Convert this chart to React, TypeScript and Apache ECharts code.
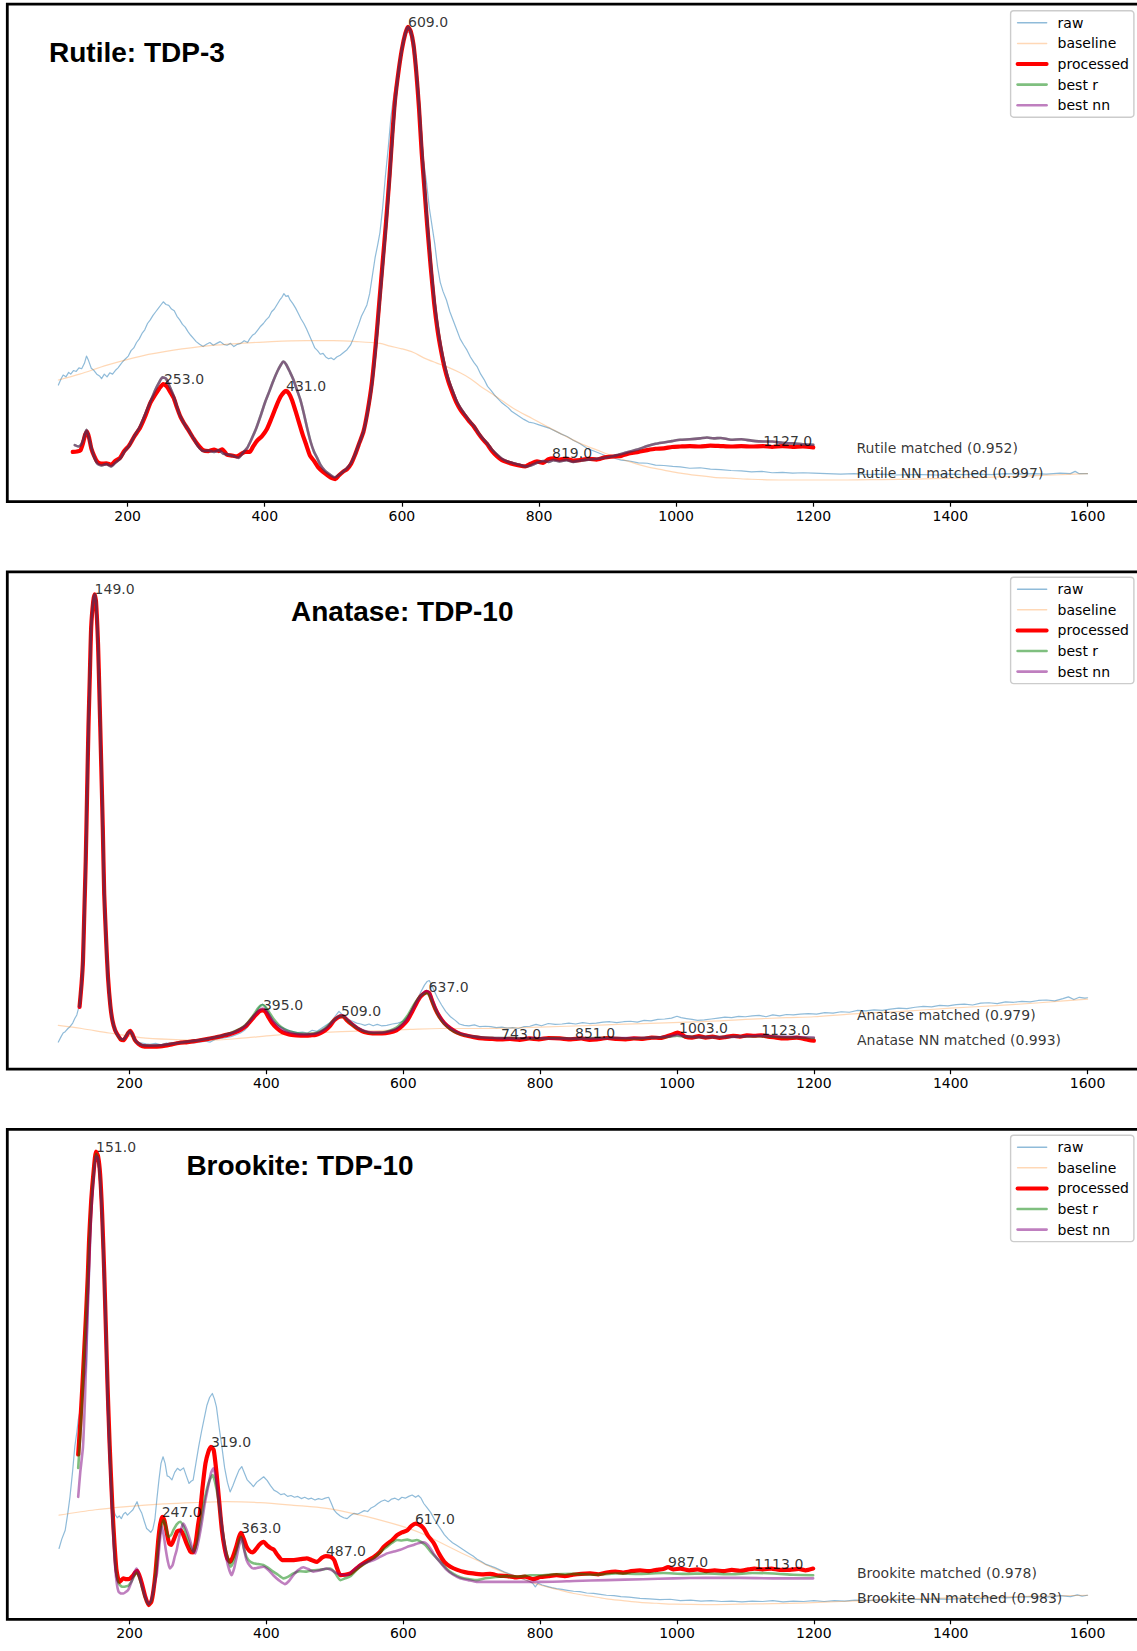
import React, { useEffect, useRef } from "react";
import * as echarts from "echarts";

type Pt = [number, number];

const TICKS = [200, 400, 600, 800, 1000, 1200, 1400, 1600];
const LEGEND_NAMES = ["raw", "baseline", "processed", "best r", "best nn"];
const MATCHED_X = 1263;

// ---------------- Rutile: TDP-3 ----------------
const rutileTitle = "Rutile: TDP-3";
const rutileRaw: Pt[] = [
  [99, 0.208], [103, 0.222], [106, 0.23], [110, 0.226], [114, 0.236], [117, 0.232], [121, 0.24], [125, 0.238],
  [129, 0.246], [133, 0.244], [137, 0.256], [140, 0.272], [143, 0.262], [147, 0.245], [151, 0.24], [155, 0.232],
  [159, 0.228], [162, 0.222], [166, 0.232], [170, 0.226], [174, 0.235], [178, 0.232], [182, 0.24], [186, 0.246],
  [189, 0.252], [193, 0.26], [197, 0.266], [201, 0.272], [205, 0.284], [209, 0.29], [213, 0.302], [217, 0.31],
  [221, 0.322], [225, 0.33], [229, 0.344], [233, 0.352], [237, 0.362], [241, 0.37], [245, 0.378], [249, 0.386],
  [252, 0.392], [256, 0.386], [260, 0.384], [264, 0.376], [268, 0.372], [272, 0.36], [276, 0.352], [280, 0.342],
  [284, 0.336], [288, 0.326], [292, 0.318], [296, 0.311], [300, 0.304], [305, 0.298], [310, 0.293], [315, 0.298],
  [320, 0.302], [325, 0.296], [330, 0.3], [335, 0.304], [340, 0.298], [345, 0.296], [350, 0.3], [355, 0.293],
  [360, 0.298], [365, 0.3], [370, 0.306], [375, 0.302], [378, 0.31], [382, 0.318], [386, 0.322], [390, 0.33],
  [394, 0.338], [398, 0.344], [402, 0.352], [406, 0.358], [410, 0.37], [414, 0.376], [418, 0.386], [422, 0.396],
  [425, 0.402], [428, 0.41], [431, 0.404], [434, 0.406], [437, 0.396], [441, 0.388], [445, 0.378], [449, 0.366],
  [453, 0.354], [457, 0.344], [461, 0.332], [465, 0.318], [469, 0.304], [473, 0.29], [477, 0.284], [481, 0.276],
  [485, 0.278], [489, 0.27], [493, 0.266], [497, 0.268], [501, 0.264], [505, 0.27], [510, 0.274], [515, 0.28],
  [520, 0.286], [525, 0.296], [529, 0.31], [533, 0.326], [537, 0.342], [541, 0.36], [545, 0.372], [549, 0.385],
  [553, 0.41], [557, 0.45], [561, 0.49], [565, 0.52], [568, 0.545], [572, 0.6], [576, 0.67], [580, 0.73],
  [584, 0.8], [588, 0.845], [592, 0.88], [596, 0.92], [600, 0.95], [604, 0.975], [608, 0.99], [612, 0.985],
  [616, 0.95], [620, 0.9], [624, 0.83], [628, 0.76], [632, 0.7], [636, 0.655], [640, 0.6], [644, 0.56],
  [648, 0.52], [652, 0.47], [656, 0.435], [660, 0.415], [665, 0.396], [670, 0.37], [675, 0.35], [680, 0.33],
  [685, 0.31], [690, 0.297], [695, 0.285], [700, 0.27], [705, 0.258], [710, 0.248], [715, 0.232], [720, 0.22],
  [725, 0.205], [730, 0.196], [735, 0.186], [740, 0.178], [745, 0.17], [750, 0.164], [755, 0.158], [760, 0.15],
  [766, 0.144], [772, 0.138], [778, 0.132], [785, 0.126], [792, 0.124], [800, 0.12], [808, 0.116], [816, 0.112],
  [824, 0.106], [832, 0.1], [841, 0.094], [850, 0.086], [860, 0.078], [870, 0.068], [880, 0.062], [890, 0.056],
  [900, 0.05], [910, 0.046], [920, 0.042], [932, 0.04], [945, 0.036], [958, 0.035], [970, 0.031], [982, 0.03],
  [995, 0.028], [1006, 0.027], [1020, 0.024], [1035, 0.025], [1050, 0.022], [1065, 0.021], [1080, 0.019],
  [1095, 0.018], [1110, 0.016], [1125, 0.017], [1140, 0.014], [1155, 0.015], [1170, 0.013], [1185, 0.014],
  [1200, 0.013], [1220, 0.012], [1240, 0.011], [1260, 0.012], [1280, 0.01], [1300, 0.011], [1320, 0.009],
  [1340, 0.01], [1360, 0.01], [1380, 0.009], [1400, 0.011], [1420, 0.01], [1440, 0.011], [1460, 0.01],
  [1480, 0.012], [1500, 0.011], [1520, 0.012], [1540, 0.011], [1560, 0.013], [1575, 0.012], [1582, 0.017],
  [1588, 0.012], [1600, 0.012],
];
const rutileBaseline: Pt[] = [
  [99, 0.219], [130, 0.232], [170, 0.252], [220, 0.272], [267, 0.285], [320, 0.295], [364, 0.3], [410, 0.304],
  [461, 0.306], [500, 0.306], [534, 0.304], [568, 0.3], [583, 0.294], [600, 0.288], [617, 0.28], [632, 0.268],
  [650, 0.257], [666, 0.248], [685, 0.235], [700, 0.222], [714, 0.206], [740, 0.18], [763, 0.156], [790, 0.134],
  [812, 0.116], [836, 0.097], [860, 0.079], [885, 0.064], [909, 0.05], [933, 0.038], [958, 0.027], [982, 0.02],
  [1006, 0.013], [1030, 0.008], [1055, 0.004], [1080, 0.002], [1104, 0.0], [1150, -0.002], [1200, -0.002],
  [1250, -0.002], [1300, -0.001], [1350, 0.0], [1400, 0.002], [1450, 0.004], [1500, 0.006], [1550, 0.009],
  [1600, 0.012],
];
const rutileProcessed: Pt[] = [
  [120, 0.06], [126, 0.061], [131, 0.063], [135, 0.08], [138, 0.098], [141, 0.105], [144, 0.09], [147, 0.068],
  [151, 0.052], [156, 0.038], [162, 0.034], [169, 0.035], [176, 0.032], [182, 0.04], [189, 0.047], [195, 0.062],
  [202, 0.074], [210, 0.095], [218, 0.113], [226, 0.14], [233, 0.168], [240, 0.186], [246, 0.2], [252, 0.21],
  [257, 0.205], [262, 0.193], [267, 0.18], [272, 0.158], [277, 0.138], [282, 0.124], [288, 0.11], [296, 0.09],
  [303, 0.075], [310, 0.064], [318, 0.062], [326, 0.065], [333, 0.062], [338, 0.066], [345, 0.054], [352, 0.052],
  [359, 0.05], [366, 0.056], [372, 0.06], [378, 0.06], [383, 0.072], [389, 0.085], [396, 0.095], [403, 0.11],
  [410, 0.135], [417, 0.162], [423, 0.182], [428, 0.192], [431, 0.195], [435, 0.19], [440, 0.174], [445, 0.15],
  [450, 0.125], [455, 0.1], [460, 0.078], [466, 0.052], [472, 0.04], [478, 0.026], [485, 0.016], [492, 0.008],
  [498, 0.002], [503, 0.0], [508, 0.008], [514, 0.016], [520, 0.022], [526, 0.034], [532, 0.055], [538, 0.08],
  [544, 0.105], [550, 0.15], [556, 0.21], [562, 0.3], [567, 0.39], [572, 0.48], [577, 0.57], [582, 0.67],
  [586, 0.76], [590, 0.838], [595, 0.9], [600, 0.95], [605, 0.985], [609, 1.0], [613, 0.99], [617, 0.96],
  [621, 0.9], [625, 0.82], [629, 0.72], [633, 0.64], [637, 0.56], [642, 0.47], [647, 0.39], [652, 0.33],
  [657, 0.285], [662, 0.248], [668, 0.215], [674, 0.19], [680, 0.168], [686, 0.152], [692, 0.14], [698, 0.128],
  [705, 0.116], [712, 0.1], [718, 0.088], [724, 0.078], [731, 0.063], [739, 0.05], [746, 0.042], [754, 0.037],
  [763, 0.033], [771, 0.03], [780, 0.028], [788, 0.034], [797, 0.039], [806, 0.036], [814, 0.044], [821, 0.046],
  [830, 0.043], [840, 0.045], [850, 0.041], [860, 0.042], [872, 0.045], [884, 0.043], [896, 0.048], [909, 0.05],
  [921, 0.052], [933, 0.057], [945, 0.06], [958, 0.064], [970, 0.067], [982, 0.068], [994, 0.071], [1006, 0.072],
  [1020, 0.073], [1035, 0.072], [1050, 0.074], [1065, 0.073], [1080, 0.072], [1095, 0.073], [1110, 0.072],
  [1127, 0.073], [1140, 0.071], [1155, 0.073], [1170, 0.071], [1185, 0.072], [1200, 0.07],
];
const rutileBestR: Pt[] = [
  [123, 0.075], [128, 0.072], [132, 0.076], [136, 0.09], [140, 0.109], [143, 0.095], [147, 0.07], [151, 0.05],
  [156, 0.034], [162, 0.03], [169, 0.033], [176, 0.028], [182, 0.036], [189, 0.045], [195, 0.06], [202, 0.073],
  [210, 0.096], [218, 0.116], [226, 0.145], [233, 0.17], [240, 0.196], [246, 0.214], [251, 0.225], [256, 0.222],
  [261, 0.206], [266, 0.188], [271, 0.165], [276, 0.142], [282, 0.124], [288, 0.11], [296, 0.09], [303, 0.072],
  [310, 0.062], [318, 0.063], [326, 0.06], [333, 0.064], [340, 0.056], [348, 0.054], [356, 0.05], [362, 0.047],
  [368, 0.058], [374, 0.068], [380, 0.086], [387, 0.11], [394, 0.14], [401, 0.172], [407, 0.195], [413, 0.219],
  [419, 0.24], [424, 0.254], [427, 0.26], [431, 0.254], [437, 0.236], [442, 0.219], [447, 0.197], [452, 0.175],
  [457, 0.145], [462, 0.112], [467, 0.082], [472, 0.06], [476, 0.048], [481, 0.032], [488, 0.018], [496, 0.009],
  [502, 0.004], [508, 0.009], [514, 0.016], [520, 0.024], [526, 0.036], [532, 0.056], [538, 0.08], [544, 0.105],
  [550, 0.148], [556, 0.205], [562, 0.29], [567, 0.38], [572, 0.47], [577, 0.56], [582, 0.66], [586, 0.75],
  [590, 0.83], [595, 0.9], [600, 0.95], [605, 0.985], [609, 1.0], [613, 0.99], [617, 0.962], [621, 0.905],
  [625, 0.83], [629, 0.735], [633, 0.65], [637, 0.57], [642, 0.48], [647, 0.4], [652, 0.34], [657, 0.292],
  [662, 0.255], [668, 0.22], [674, 0.195], [680, 0.172], [686, 0.156], [692, 0.143], [698, 0.13], [705, 0.118],
  [712, 0.102], [718, 0.09], [724, 0.08], [731, 0.066], [739, 0.054], [746, 0.045], [754, 0.039], [763, 0.035],
  [771, 0.032], [780, 0.028], [788, 0.03], [797, 0.036], [806, 0.04], [814, 0.038], [821, 0.042], [830, 0.039],
  [840, 0.042], [850, 0.038], [860, 0.041], [872, 0.043], [884, 0.045], [896, 0.047], [909, 0.051], [921, 0.056],
  [933, 0.061], [945, 0.066], [958, 0.073], [970, 0.078], [982, 0.081], [994, 0.084], [1006, 0.087], [1020, 0.088],
  [1035, 0.09], [1045, 0.092], [1055, 0.09], [1065, 0.091], [1080, 0.087], [1095, 0.088], [1110, 0.085],
  [1127, 0.083], [1140, 0.083], [1155, 0.08], [1170, 0.079], [1185, 0.077], [1200, 0.076],
];
const rutileBestNN: Pt[] = rutileBestR;
const rutilePeaks: Pt[] = [[609, 1.0], [253, 0.21], [431, 0.195], [819, 0.046], [1127, 0.073]];
const rutileMatched = ["Rutile matched (0.952)", "Rutile NN matched (0.997)"];
const rutileMatchedY = [0.069, 0.014];

// ---------------- Anatase: TDP-10 ----------------
const anataseTitle = "Anatase: TDP-10";
const anataseRaw: Pt[] = [
  [96, 0.01], [100, 0.022], [103, 0.03], [106, 0.033], [110, 0.04], [113, 0.044], [117, 0.052], [120, 0.062],
  [123, 0.07], [126, 0.088], [129, 0.13], [132, 0.2], [135, 0.35], [138, 0.56], [141, 0.76], [144, 0.91],
  [147, 0.98], [149, 0.995], [152, 0.96], [155, 0.85], [158, 0.66], [161, 0.47], [164, 0.3], [167, 0.19],
  [170, 0.12], [174, 0.066], [178, 0.038], [182, 0.024], [186, 0.015], [190, 0.012], [194, 0.018], [198, 0.03],
  [201, 0.036], [204, 0.03], [208, 0.016], [212, 0.01], [218, 0.008], [224, 0.006], [230, 0.005], [238, 0.007],
  [246, 0.004], [254, 0.008], [262, 0.006], [270, 0.009], [278, 0.007], [286, 0.01], [294, 0.008], [303, 0.01],
  [311, 0.012], [318, 0.01], [325, 0.016], [333, 0.018], [340, 0.02], [348, 0.022], [355, 0.026], [362, 0.03],
  [368, 0.036], [374, 0.046], [381, 0.066], [387, 0.082], [391, 0.09], [394, 0.094], [398, 0.09], [403, 0.076],
  [410, 0.056], [418, 0.046], [426, 0.04], [435, 0.035], [445, 0.031], [453, 0.032], [460, 0.03], [467, 0.036],
  [474, 0.034], [480, 0.04], [486, 0.046], [492, 0.052], [498, 0.062], [503, 0.072], [506, 0.078], [510, 0.072],
  [515, 0.066], [520, 0.06], [526, 0.056], [532, 0.052], [538, 0.05], [544, 0.047], [550, 0.05], [556, 0.046],
  [562, 0.049], [568, 0.046], [576, 0.047], [584, 0.05], [592, 0.052], [600, 0.056], [606, 0.066], [611, 0.078],
  [616, 0.092], [621, 0.106], [626, 0.122], [631, 0.136], [635, 0.144], [638, 0.146], [641, 0.138], [645, 0.124],
  [650, 0.108], [656, 0.092], [662, 0.078], [669, 0.066], [676, 0.058], [682, 0.05], [689, 0.047], [696, 0.046],
  [704, 0.048], [712, 0.044], [720, 0.045], [728, 0.044], [736, 0.042], [744, 0.043], [752, 0.041], [760, 0.042],
  [768, 0.04], [776, 0.044], [785, 0.045], [794, 0.049], [802, 0.046], [812, 0.051], [822, 0.049], [832, 0.05],
  [842, 0.052], [852, 0.05], [862, 0.053], [872, 0.051], [882, 0.052], [892, 0.054], [902, 0.055], [912, 0.053],
  [922, 0.055], [932, 0.056], [942, 0.054], [952, 0.058], [962, 0.057], [972, 0.06], [982, 0.061], [992, 0.063],
  [1000, 0.067], [1006, 0.064], [1014, 0.062], [1022, 0.06], [1030, 0.058], [1040, 0.059], [1050, 0.061],
  [1060, 0.063], [1070, 0.065], [1080, 0.064], [1090, 0.067], [1100, 0.066], [1110, 0.068], [1120, 0.069],
  [1130, 0.066], [1140, 0.07], [1150, 0.068], [1160, 0.071], [1170, 0.07], [1180, 0.072], [1192, 0.073],
  [1204, 0.072], [1216, 0.075], [1228, 0.074], [1240, 0.077], [1252, 0.076], [1264, 0.08], [1276, 0.079],
  [1288, 0.081], [1300, 0.08], [1312, 0.083], [1324, 0.085], [1336, 0.084], [1348, 0.087], [1360, 0.089],
  [1372, 0.088], [1384, 0.091], [1396, 0.09], [1408, 0.093], [1420, 0.094], [1432, 0.092], [1444, 0.096],
  [1456, 0.097], [1468, 0.095], [1480, 0.099], [1492, 0.098], [1504, 0.1], [1516, 0.099], [1528, 0.102],
  [1540, 0.103], [1552, 0.101], [1564, 0.106], [1572, 0.11], [1580, 0.104], [1588, 0.109], [1596, 0.107],
  [1600, 0.108],
];
const anataseBaseline: Pt[] = [
  [96, 0.047], [130, 0.04], [170, 0.03], [216, 0.02], [260, 0.016], [313, 0.014], [360, 0.018], [410, 0.025],
  [460, 0.03], [510, 0.033], [557, 0.035], [610, 0.038], [654, 0.04], [700, 0.04], [752, 0.041], [800, 0.043],
  [878, 0.047], [950, 0.051], [1038, 0.055], [1100, 0.06], [1160, 0.064], [1200, 0.066], [1264, 0.073],
  [1330, 0.078], [1400, 0.085], [1460, 0.09], [1530, 0.097], [1600, 0.105],
];
const anataseProcessed: Pt[] = [
  [127, 0.088], [130, 0.14], [132, 0.19], [134, 0.3], [136, 0.41], [138, 0.56], [140, 0.707], [142, 0.82],
  [144, 0.928], [147, 0.985], [149, 1.0], [151, 0.985], [154, 0.89], [156, 0.78], [158.5, 0.633], [161, 0.48],
  [163, 0.338], [166, 0.23], [168.5, 0.154], [172, 0.09], [175, 0.058], [179, 0.036], [183, 0.025], [187, 0.016],
  [191, 0.014], [195, 0.022], [198, 0.03], [201, 0.035], [204, 0.028], [208, 0.014], [213, 0.006], [219, 0.001],
  [228, 0.0], [240, 0.0], [252, 0.002], [262, 0.005], [272, 0.008], [285, 0.01], [295, 0.012], [303, 0.014],
  [315, 0.017], [325, 0.02], [334, 0.023], [345, 0.027], [355, 0.032], [362, 0.037], [370, 0.045], [376, 0.055],
  [382, 0.066], [387, 0.074], [391, 0.079], [395, 0.08], [399, 0.076], [403, 0.065], [408, 0.053], [415, 0.041],
  [423, 0.032], [433, 0.027], [444, 0.025], [455, 0.024], [465, 0.025], [472, 0.026], [479, 0.03], [486, 0.036],
  [492, 0.044], [499, 0.058], [505, 0.065], [509, 0.067], [513, 0.066], [518, 0.058], [525, 0.049], [533, 0.04],
  [543, 0.032], [555, 0.029], [569, 0.029], [580, 0.031], [590, 0.036], [598, 0.045], [606, 0.058], [613, 0.077],
  [619, 0.095], [625, 0.11], [630, 0.117], [634, 0.121], [638, 0.118], [642, 0.102], [647, 0.083], [653, 0.066],
  [660, 0.052], [669, 0.04], [679, 0.031], [690, 0.025], [703, 0.021], [716, 0.018], [730, 0.017], [743, 0.016],
  [756, 0.017], [770, 0.015], [784, 0.018], [798, 0.016], [812, 0.019], [829, 0.018], [845, 0.016], [860, 0.018],
  [872, 0.015], [883, 0.016], [898, 0.019], [912, 0.017], [925, 0.016], [937, 0.018], [950, 0.017], [963, 0.02],
  [976, 0.019], [990, 0.025], [997, 0.029], [1001, 0.031], [1006, 0.028], [1012, 0.022], [1022, 0.02],
  [1032, 0.023], [1042, 0.02], [1052, 0.022], [1062, 0.019], [1071, 0.021], [1082, 0.024], [1092, 0.022],
  [1102, 0.025], [1113, 0.024], [1123, 0.025], [1133, 0.022], [1145, 0.02], [1155, 0.018], [1162, 0.018],
  [1175, 0.02], [1186, 0.017], [1194, 0.014], [1200, 0.013],
];
const anataseBestR: Pt[] = [
  [127, 0.09], [130, 0.14], [132, 0.19], [134, 0.3], [136, 0.41], [138, 0.56], [140, 0.707], [142, 0.82],
  [144, 0.928], [147, 0.985], [149, 1.0], [151, 0.985], [154, 0.89], [156, 0.78], [158.5, 0.633], [161, 0.48],
  [163, 0.338], [166, 0.23], [168.5, 0.154], [172, 0.09], [175, 0.058], [179, 0.036], [183, 0.024], [187, 0.017],
  [191, 0.016], [195, 0.024], [198, 0.031], [201, 0.034], [204, 0.027], [208, 0.014], [213, 0.007], [219, 0.003],
  [230, 0.002], [245, 0.003], [260, 0.006], [275, 0.009], [290, 0.012], [305, 0.015], [320, 0.019], [335, 0.024],
  [348, 0.03], [358, 0.037], [366, 0.044], [372, 0.052], [378, 0.063], [383, 0.074], [388, 0.085], [392, 0.091],
  [395, 0.092], [399, 0.087], [404, 0.076], [410, 0.062], [418, 0.048], [427, 0.038], [437, 0.032], [448, 0.029],
  [459, 0.028], [469, 0.029], [477, 0.033], [485, 0.04], [492, 0.049], [499, 0.059], [505, 0.066], [509, 0.068],
  [514, 0.065], [520, 0.056], [527, 0.047], [535, 0.039], [545, 0.033], [557, 0.03], [569, 0.031], [580, 0.035],
  [590, 0.042], [598, 0.053], [606, 0.068], [613, 0.086], [619, 0.101], [625, 0.112], [630, 0.117], [634, 0.118],
  [638, 0.113], [642, 0.1], [647, 0.082], [653, 0.064], [660, 0.05], [669, 0.038], [679, 0.03], [690, 0.025],
  [703, 0.022], [716, 0.02], [735, 0.019], [760, 0.019], [790, 0.018], [820, 0.019], [850, 0.018], [880, 0.019],
  [910, 0.019], [940, 0.018], [970, 0.02], [990, 0.022], [1000, 0.024], [1010, 0.022], [1030, 0.021],
  [1060, 0.021], [1090, 0.022], [1120, 0.023], [1150, 0.021], [1175, 0.02], [1200, 0.019],
];
const anataseBestNN: Pt[] = [
  [127, 0.088], [130, 0.14], [132, 0.19], [134, 0.3], [136, 0.41], [138, 0.56], [140, 0.707], [142, 0.82],
  [144, 0.928], [147, 0.985], [149, 1.0], [151, 0.985], [154, 0.89], [156, 0.78], [158.5, 0.633], [161, 0.48],
  [163, 0.338], [166, 0.23], [168.5, 0.154], [172, 0.09], [175, 0.058], [179, 0.036], [183, 0.025], [187, 0.018],
  [191, 0.016], [195, 0.023], [198, 0.03], [201, 0.034], [204, 0.028], [208, 0.015], [213, 0.007], [219, 0.003],
  [230, 0.002], [245, 0.003], [260, 0.006], [275, 0.009], [290, 0.012], [305, 0.015], [320, 0.019], [335, 0.024],
  [348, 0.029], [358, 0.035], [366, 0.042], [372, 0.05], [378, 0.06], [383, 0.07], [388, 0.078], [392, 0.083],
  [395, 0.084], [399, 0.08], [404, 0.069], [410, 0.056], [418, 0.044], [427, 0.035], [437, 0.03], [448, 0.027],
  [459, 0.027], [469, 0.028], [477, 0.031], [485, 0.038], [492, 0.047], [499, 0.058], [505, 0.066], [509, 0.069],
  [514, 0.066], [520, 0.058], [527, 0.049], [535, 0.04], [545, 0.034], [557, 0.031], [569, 0.031], [580, 0.034],
  [590, 0.039], [598, 0.048], [606, 0.061], [613, 0.08], [619, 0.097], [625, 0.111], [630, 0.119], [634, 0.123],
  [638, 0.12], [642, 0.105], [647, 0.086], [653, 0.068], [660, 0.053], [669, 0.041], [679, 0.032], [690, 0.026],
  [703, 0.022], [716, 0.02], [735, 0.019], [760, 0.018], [790, 0.019], [820, 0.018], [850, 0.018], [880, 0.018],
  [910, 0.019], [940, 0.019], [970, 0.02], [990, 0.023], [1000, 0.026], [1010, 0.023], [1030, 0.021],
  [1060, 0.021], [1090, 0.022], [1120, 0.024], [1150, 0.022], [1175, 0.021], [1200, 0.02],
];
const anatasePeaks: Pt[] = [
  [149, 1.0], [395, 0.08], [509, 0.067], [637, 0.121], [743, 0.016], [851, 0.019], [1003, 0.03], [1123, 0.025],
];
const anataseMatched = ["Anatase matched (0.979)", "Anatase NN matched (0.993)"];
const anataseMatchedY = [0.069, 0.014];

// ---------------- Brookite: TDP-10 ----------------
const brookiteTitle = "Brookite: TDP-10";
const brookiteRaw: Pt[] = [
  [97, 0.109], [101, 0.13], [106, 0.15], [110, 0.19], [113, 0.225], [117, 0.285], [120, 0.337], [123, 0.37],
  [125, 0.397], [128, 0.42], [130, 0.44], [133, 0.47], [137, 0.52], [141, 0.7], [145, 0.88], [149, 0.975],
  [152, 0.99], [155, 0.96], [158, 0.88], [161, 0.76], [164, 0.6], [167, 0.45], [170, 0.32], [173, 0.24],
  [176, 0.2], [179, 0.185], [182, 0.178], [185, 0.182], [188, 0.176], [191, 0.186], [194, 0.19], [197, 0.184],
  [201, 0.19], [205, 0.196], [208, 0.205], [211, 0.214], [214, 0.2], [218, 0.188], [222, 0.168], [225, 0.154],
  [228, 0.15], [231, 0.145], [234, 0.152], [237, 0.173], [240, 0.22], [243, 0.263], [246, 0.3], [249, 0.315],
  [252, 0.3], [255, 0.272], [258, 0.27], [262, 0.263], [266, 0.28], [270, 0.289], [274, 0.284], [279, 0.29],
  [283, 0.272], [287, 0.255], [290, 0.26], [293, 0.263], [297, 0.3], [301, 0.337], [305, 0.37], [309, 0.4],
  [313, 0.43], [317, 0.448], [321, 0.457], [324, 0.445], [327, 0.427], [331, 0.38], [335, 0.337], [339, 0.29],
  [343, 0.258], [347, 0.236], [351, 0.25], [355, 0.266], [360, 0.285], [364, 0.293], [368, 0.278], [372, 0.263],
  [377, 0.255], [381, 0.248], [386, 0.258], [391, 0.264], [396, 0.27], [401, 0.262], [406, 0.25], [411, 0.24],
  [416, 0.236], [421, 0.23], [426, 0.232], [431, 0.226], [436, 0.228], [441, 0.224], [446, 0.226], [451, 0.221],
  [456, 0.224], [461, 0.22], [466, 0.222], [471, 0.218], [476, 0.221], [481, 0.219], [486, 0.222], [491, 0.224],
  [495, 0.21], [499, 0.195], [503, 0.188], [508, 0.182], [513, 0.178], [518, 0.176], [523, 0.183], [528, 0.188],
  [533, 0.186], [538, 0.19], [543, 0.194], [548, 0.192], [553, 0.2], [558, 0.204], [563, 0.21], [568, 0.215],
  [573, 0.218], [578, 0.214], [583, 0.22], [588, 0.222], [593, 0.218], [598, 0.224], [603, 0.222], [608, 0.226],
  [613, 0.229], [618, 0.224], [622, 0.228], [626, 0.222], [630, 0.21], [635, 0.2], [640, 0.19], [645, 0.176],
  [650, 0.163], [655, 0.152], [660, 0.14], [666, 0.13], [672, 0.122], [678, 0.116], [684, 0.11], [690, 0.104],
  [696, 0.098], [702, 0.092], [708, 0.085], [714, 0.08], [720, 0.074], [727, 0.07], [734, 0.066], [741, 0.061],
  [748, 0.056], [755, 0.052], [762, 0.048], [769, 0.044], [776, 0.04], [783, 0.036], [789, 0.031], [793, 0.023],
  [797, 0.031], [803, 0.027], [810, 0.024], [817, 0.021], [824, 0.019], [832, 0.017], [840, 0.015], [849, 0.013],
  [858, 0.012], [868, 0.009], [878, 0.008], [888, 0.006], [897, 0.004], [908, 0.003], [918, 0.001], [930, 0.0],
  [946, -0.003], [960, -0.004], [975, -0.006], [990, -0.005], [1005, -0.008], [1020, -0.007], [1035, -0.009],
  [1050, -0.008], [1065, -0.01], [1080, -0.009], [1095, -0.011], [1110, -0.009], [1125, -0.01], [1140, -0.008],
  [1155, -0.011], [1170, -0.009], [1185, -0.01], [1200, -0.008], [1215, -0.01], [1230, -0.008], [1245, -0.009],
  [1260, -0.007], [1280, -0.008], [1300, -0.006], [1320, -0.007], [1340, -0.005], [1360, -0.006], [1380, -0.004],
  [1400, -0.005], [1420, -0.003], [1440, -0.004], [1460, -0.001], [1480, -0.002], [1500, 0.0], [1520, 0.001],
  [1540, 0.0], [1560, 0.003], [1575, 0.001], [1585, 0.005], [1592, 0.002], [1600, 0.004],
];
const brookiteBaseline: Pt[] = [
  [97, 0.184], [150, 0.196], [196, 0.203], [250, 0.209], [293, 0.212], [342, 0.214], [391, 0.212], [440, 0.206],
  [488, 0.199], [537, 0.184], [585, 0.165], [610, 0.153], [634, 0.138], [660, 0.118], [685, 0.099], [707, 0.083],
  [730, 0.066], [751, 0.053], [775, 0.04], [800, 0.027], [825, 0.017], [849, 0.008], [873, 0.002], [897, -0.004],
  [921, -0.008], [946, -0.012], [970, -0.014], [995, -0.016], [1043, -0.017], [1092, -0.016], [1140, -0.015],
  [1190, -0.013], [1240, -0.01], [1287, -0.007], [1340, -0.004], [1400, -0.002], [1460, 0.0], [1530, 0.002],
  [1600, 0.004],
];
const brookiteProcessed: Pt[] = [
  [125, 0.32], [128, 0.39], [131, 0.47], [134, 0.56], [136, 0.62], [139, 0.72], [141, 0.805], [144, 0.89],
  [147.5, 0.955], [151, 1.0], [154, 0.99], [157, 0.95], [160, 0.86], [163, 0.73], [165.5, 0.6], [168, 0.47],
  [171, 0.34], [175, 0.2], [178, 0.12], [181, 0.06], [185, 0.034], [188, 0.038], [191, 0.042], [195, 0.04],
  [198, 0.04], [201, 0.042], [205, 0.048], [208, 0.055], [211, 0.059], [214, 0.05], [218, 0.031], [223, 0.001],
  [228, -0.018], [232, -0.01], [235, 0.015], [238, 0.055], [242, 0.128], [245, 0.165], [248, 0.18], [251, 0.172],
  [255, 0.14], [258, 0.12], [261, 0.117], [265, 0.13], [270, 0.148], [275, 0.15], [279, 0.138], [284, 0.118],
  [289, 0.102], [293, 0.1], [297, 0.125], [300, 0.16], [303, 0.19], [307, 0.25], [311, 0.3], [315, 0.325],
  [319, 0.337], [323, 0.33], [327, 0.28], [331, 0.215], [335, 0.15], [339, 0.11], [343, 0.086], [347, 0.079],
  [351, 0.09], [356, 0.113], [360, 0.135], [363, 0.144], [367, 0.13], [371, 0.113], [375, 0.104], [380, 0.1],
  [385, 0.108], [390, 0.118], [396, 0.124], [401, 0.116], [406, 0.11], [411, 0.106], [416, 0.095], [423, 0.083],
  [430, 0.083], [440, 0.083], [450, 0.085], [459, 0.087], [466, 0.083], [474, 0.079], [481, 0.088], [487, 0.092],
  [494, 0.09], [499, 0.083], [503, 0.066], [508, 0.049], [515, 0.05], [523, 0.053], [530, 0.062], [538, 0.072],
  [548, 0.082], [557, 0.09], [565, 0.1], [571, 0.112], [577, 0.12], [584, 0.128], [591, 0.139], [598, 0.145],
  [606, 0.15], [612, 0.16], [618, 0.165], [624, 0.162], [630, 0.154], [636, 0.138], [645, 0.12], [652, 0.098],
  [660, 0.079], [669, 0.068], [679, 0.061], [690, 0.056], [702, 0.053], [715, 0.051], [727, 0.052], [740, 0.048],
  [752, 0.047], [766, 0.044], [778, 0.046], [790, 0.04], [800, 0.045], [812, 0.047], [824, 0.049], [836, 0.047],
  [848, 0.05], [860, 0.052], [873, 0.053], [885, 0.051], [897, 0.055], [910, 0.057], [921, 0.055], [933, 0.058],
  [946, 0.06], [958, 0.058], [970, 0.061], [980, 0.063], [987, 0.067], [995, 0.062], [1005, 0.064], [1018, 0.06],
  [1030, 0.062], [1043, 0.058], [1055, 0.06], [1068, 0.058], [1080, 0.061], [1092, 0.059], [1104, 0.062],
  [1113, 0.064], [1125, 0.062], [1138, 0.064], [1150, 0.061], [1165, 0.061], [1178, 0.063], [1188, 0.06],
  [1199, 0.064],
];
const brookiteBestR: Pt[] = [
  [125, 0.29], [128, 0.36], [131, 0.45], [134, 0.55], [136, 0.61], [139, 0.71], [141, 0.79], [144, 0.88],
  [147.5, 0.95], [151, 0.995], [154, 0.985], [157, 0.94], [160, 0.85], [163, 0.72], [166, 0.58], [168, 0.46],
  [171, 0.33], [175, 0.19], [178, 0.1], [181, 0.05], [184, 0.031], [188, 0.024], [191, 0.023], [195, 0.024],
  [198, 0.025], [203, 0.035], [207, 0.048], [210.5, 0.055], [214, 0.045], [218, 0.023], [223, -0.002],
  [228, -0.016], [232, -0.008], [237, 0.038], [241, 0.1], [244.6, 0.143], [249.5, 0.173], [253, 0.16],
  [257, 0.135], [261, 0.14], [264, 0.15], [269, 0.163], [274, 0.169], [279, 0.158], [283.5, 0.139], [288, 0.118],
  [293, 0.102], [298, 0.12], [303, 0.158], [308, 0.205], [312.7, 0.24], [317, 0.262], [321.5, 0.274], [325, 0.258],
  [330, 0.218], [335, 0.16], [339.6, 0.113], [344, 0.085], [347.8, 0.068], [352, 0.08], [356.6, 0.106],
  [360, 0.126], [363, 0.135], [367, 0.11], [371, 0.09], [376, 0.08], [381, 0.076], [388, 0.074], [395.6, 0.072],
  [402, 0.066], [410, 0.057], [417, 0.05], [424.8, 0.042], [432, 0.046], [439.4, 0.053], [449, 0.058],
  [459, 0.057], [468, 0.06], [478, 0.061], [486, 0.063], [493, 0.064], [500, 0.055], [508, 0.038], [515, 0.042],
  [522, 0.046], [530, 0.058], [537, 0.068], [547, 0.078], [557, 0.087], [566, 0.1], [576.5, 0.113], [584, 0.122],
  [591, 0.128], [598, 0.127], [606, 0.129], [613, 0.126], [620, 0.128], [626, 0.124], [632, 0.117], [640, 0.102],
  [649, 0.087], [658, 0.072], [668, 0.057], [678, 0.048], [688, 0.042], [697, 0.04], [707, 0.038], [720, 0.042],
  [735, 0.045], [751, 0.047], [770, 0.046], [785, 0.049], [800, 0.049], [820, 0.051], [848.6, 0.052], [880, 0.05],
  [910, 0.053], [946, 0.052], [980, 0.054], [1010, 0.052], [1043.5, 0.053], [1080, 0.051], [1110, 0.054],
  [1141, 0.053], [1170, 0.05], [1199, 0.049],
];
const brookiteBestNN: Pt[] = [
  [125, 0.225], [128, 0.28], [132, 0.337], [135, 0.45], [138, 0.6], [141, 0.74], [144, 0.86], [147.5, 0.94],
  [151, 0.99], [154, 0.985], [157, 0.94], [160, 0.85], [163, 0.72], [166, 0.57], [168, 0.45], [171, 0.32],
  [175, 0.18], [178, 0.09], [181, 0.035], [184, 0.012], [188, 0.008], [191, 0.008], [195, 0.012], [198, 0.016],
  [203, 0.035], [207, 0.055], [210.5, 0.064], [214, 0.05], [218, 0.027], [223, 0.0], [228, -0.016], [232, -0.005],
  [236, 0.025], [240, 0.053], [244, 0.12], [247, 0.158], [250, 0.138], [253, 0.106], [256, 0.08], [259, 0.064],
  [263, 0.072], [266, 0.09], [269, 0.106], [274, 0.145], [278.7, 0.165], [283, 0.152], [288.4, 0.128],
  [292, 0.108], [296, 0.098], [300, 0.12], [305.5, 0.165], [310, 0.21], [315, 0.248], [319, 0.278],
  [322.5, 0.289], [326, 0.27], [330, 0.225], [335, 0.16], [339.6, 0.106], [344, 0.07], [349.3, 0.049],
  [353, 0.065], [356.6, 0.09], [360, 0.115], [364, 0.132], [367, 0.11], [371, 0.083], [376, 0.07], [381, 0.064],
  [388, 0.066], [395.6, 0.068], [402, 0.062], [410, 0.049], [418, 0.038], [427, 0.029], [433, 0.036],
  [439.4, 0.049], [446, 0.06], [454, 0.067], [461, 0.063], [468.7, 0.057], [478, 0.06], [488, 0.064], [496, 0.06],
  [503, 0.053], [510, 0.05], [517.4, 0.049], [527, 0.06], [537, 0.072], [547, 0.078], [557, 0.083], [566, 0.09],
  [576.5, 0.098], [586, 0.102], [595.6, 0.106], [605, 0.112], [615, 0.117], [622, 0.121], [630, 0.123],
  [637, 0.115], [644, 0.098], [653, 0.08], [663.5, 0.061], [673, 0.05], [683, 0.042], [695, 0.038], [707, 0.034],
  [717, 0.034], [750, 0.034], [800, 0.034], [850, 0.036], [897, 0.038], [950, 0.04], [995, 0.042], [1043, 0.043],
  [1092, 0.043], [1140, 0.042], [1199, 0.042],
];
const brookitePeaks: Pt[] = [
  [151, 1.0], [247, 0.18], [319, 0.337], [363, 0.144], [487, 0.092], [617, 0.165], [987, 0.067], [1113, 0.064],
];
const brookiteMatched = ["Brookite matched (0.978)", "Brookite NN matched (0.983)"];
const brookiteMatchedY = [0.053, -0.003];

// ---------------- styling / layout ----------------
const FONT = "'DejaVu Sans', 'Noto Sans', sans-serif";
const TITLE_FONT = "'Liberation Sans', Arial, Helvetica, sans-serif";

const LINE_STYLE: Record<string, { color: string; width: number; smooth: number | boolean; legendWidth: number }> = {
  raw: { color: "rgba(31,119,180,0.5)", width: 1.2, smooth: false, legendWidth: 1.5 },
  baseline: { color: "rgba(255,127,14,0.3)", width: 1.2, smooth: 0.3, legendWidth: 1.5 },
  processed: { color: "#ff0000", width: 4.2, smooth: 0.2, legendWidth: 4 },
  "best r": { color: "rgba(0,128,0,0.5)", width: 2.6, smooth: 0.2, legendWidth: 2.6 },
  "best nn": { color: "rgba(128,0,128,0.5)", width: 2.6, smooth: 0.2, legendWidth: 2.6 },
};

const LAYOUT = [
  { top: 4.2, height: 497.5, xMin: 24.5, legendTop: 10.8, titleLeft: 49, titleTop: 38.7 },
  { top: 571.8, height: 497.4, xMin: 21.4, legendTop: 577.2, titleLeft: 291, titleTop: 597.7 },
  { top: 1129.4, height: 489.9, xMin: 21.4, legendTop: 1135.2, titleLeft: 186.4, titleTop: 1151.5 },
];
const GRID_LEFT = 7.3;
const GRID_WIDTH = 1131.6;
const X_MAX = 1675;

function buildOption() {
  const panels = [
    { title: rutileTitle, raw: rutileRaw, baseline: rutileBaseline, processed: rutileProcessed, bestR: rutileBestR, bestNN: rutileBestNN, peaks: rutilePeaks, matched: rutileMatched, matchedY: rutileMatchedY },
    { title: anataseTitle, raw: anataseRaw, baseline: anataseBaseline, processed: anataseProcessed, bestR: anataseBestR, bestNN: anataseBestNN, peaks: anatasePeaks, matched: anataseMatched, matchedY: anataseMatchedY },
    { title: brookiteTitle, raw: brookiteRaw, baseline: brookiteBaseline, processed: brookiteProcessed, bestR: brookiteBestR, bestNN: brookiteBestNN, peaks: brookitePeaks, matched: brookiteMatched, matchedY: brookiteMatchedY },
  ];

  const grid: any[] = [];
  const xAxis: any[] = [];
  const yAxis: any[] = [];
  const series: any[] = [];
  const legend: any[] = [];
  const title: any[] = [];

  panels.forEach((p, i) => {
    const L = LAYOUT[i];
    grid.push({
      left: GRID_LEFT, top: L.top, width: GRID_WIDTH, height: L.height,
      show: true, borderColor: "#000", borderWidth: 2.8, backgroundColor: "transparent", containLabel: false,
    });
    xAxis.push({
      gridIndex: i, type: "value", min: L.xMin, max: X_MAX, position: "bottom",
      axisLine: { show: false, onZero: false },
      axisTick: { show: true, inside: false, length: 5, lineStyle: { color: "#000", width: 1.2 }, customValues: TICKS },
      axisLabel: {
        show: true, customValues: TICKS, fontSize: 14, color: "#000", fontFamily: FONT, margin: 7,
        formatter: (v: number) => String(v),
      },
      splitLine: { show: false },
    });
    yAxis.push({ gridIndex: i, type: "value", min: -0.05, max: 1.05, show: false, splitLine: { show: false } });

    const lineData: Record<string, Pt[]> = {
      raw: p.raw, baseline: p.baseline, processed: p.processed, "best r": p.bestR, "best nn": p.bestNN,
    };
    LEGEND_NAMES.forEach((name, k) => {
      const st = LINE_STYLE[name];
      series.push({
        type: "line", name, xAxisIndex: i, yAxisIndex: i, data: lineData[name],
        showSymbol: false, symbol: "none", smooth: st.smooth, silent: true, z: 2 + k,
        lineStyle: { color: st.color, width: st.width, join: "round", cap: "round" },
        itemStyle: { color: st.color },
        animation: false,
      });
    });
    series.push({
      type: "scatter", name: "peaks-" + i, xAxisIndex: i, yAxisIndex: i, data: p.peaks,
      symbol: "circle", symbolSize: 2, silent: true, z: 10,
      itemStyle: { color: "rgba(0,0,0,0)" },
      label: {
        show: true, position: ["50%", "50%"], align: "left", verticalAlign: "bottom", offset: [0, 2],
        formatter: (q: any) => Number(q.value[0]).toFixed(1),
        fontSize: 14, color: "#000", fontFamily: FONT,
      },
    });
    series.push({
      type: "scatter", name: "matched-" + i, xAxisIndex: i, yAxisIndex: i,
      data: p.matched.map((t, k) => ({ name: t, value: [MATCHED_X, p.matchedY[k]] })),
      symbol: "circle", symbolSize: 2, silent: true, z: 10,
      itemStyle: { color: "rgba(0,0,0,0)" },
      label: {
        show: true, position: ["50%", "50%"], align: "left", verticalAlign: "middle",
        formatter: "{b}", fontSize: 14, color: "#000", fontFamily: FONT,
      },
    });

    legend.push({
      orient: "vertical", left: 1010.6, top: L.legendTop,
      data: LEGEND_NAMES.map((n) => ({ name: n, lineStyle: { width: LINE_STYLE[n].legendWidth } })),
      itemWidth: 29, itemHeight: 14, itemGap: 6.6, padding: [5, 5, 5, 5],
      backgroundColor: "rgba(255,255,255,0.8)", borderColor: "#cccccc", borderWidth: 1.4, borderRadius: 3,
      itemStyle: { opacity: 0 }, selectedMode: false,
      textStyle: { fontSize: 14, color: "#000", fontFamily: FONT, padding: [0, 0, 0, 6] },
    });

    title.push({
      text: p.title, left: L.titleLeft, top: L.titleTop, padding: 0,
      textStyle: { fontSize: 28, fontWeight: "bold", color: "#000", fontFamily: TITLE_FONT },
    });
  });

  return {
    animation: false,
    backgroundColor: "#ffffff",
    textStyle: { fontFamily: FONT },
    title, grid, xAxis, yAxis, legend, series,
  };
}

export default function App() {
  const ref = useRef<HTMLDivElement | null>(null);
  useEffect(() => {
    if (!ref.current) return;
    const chart = echarts.init(ref.current, null, { renderer: "svg", width: 1150, height: 1651 });
    chart.setOption(buildOption() as any);
    return () => chart.dispose();
  }, []);
  return (
    <div style={{ position: "absolute", left: 0, top: 0, width: 1137, height: 1651, overflow: "hidden", background: "#fff" }}>
      <div ref={ref} style={{ width: 1150, height: 1651 }} />
    </div>
  );
}
